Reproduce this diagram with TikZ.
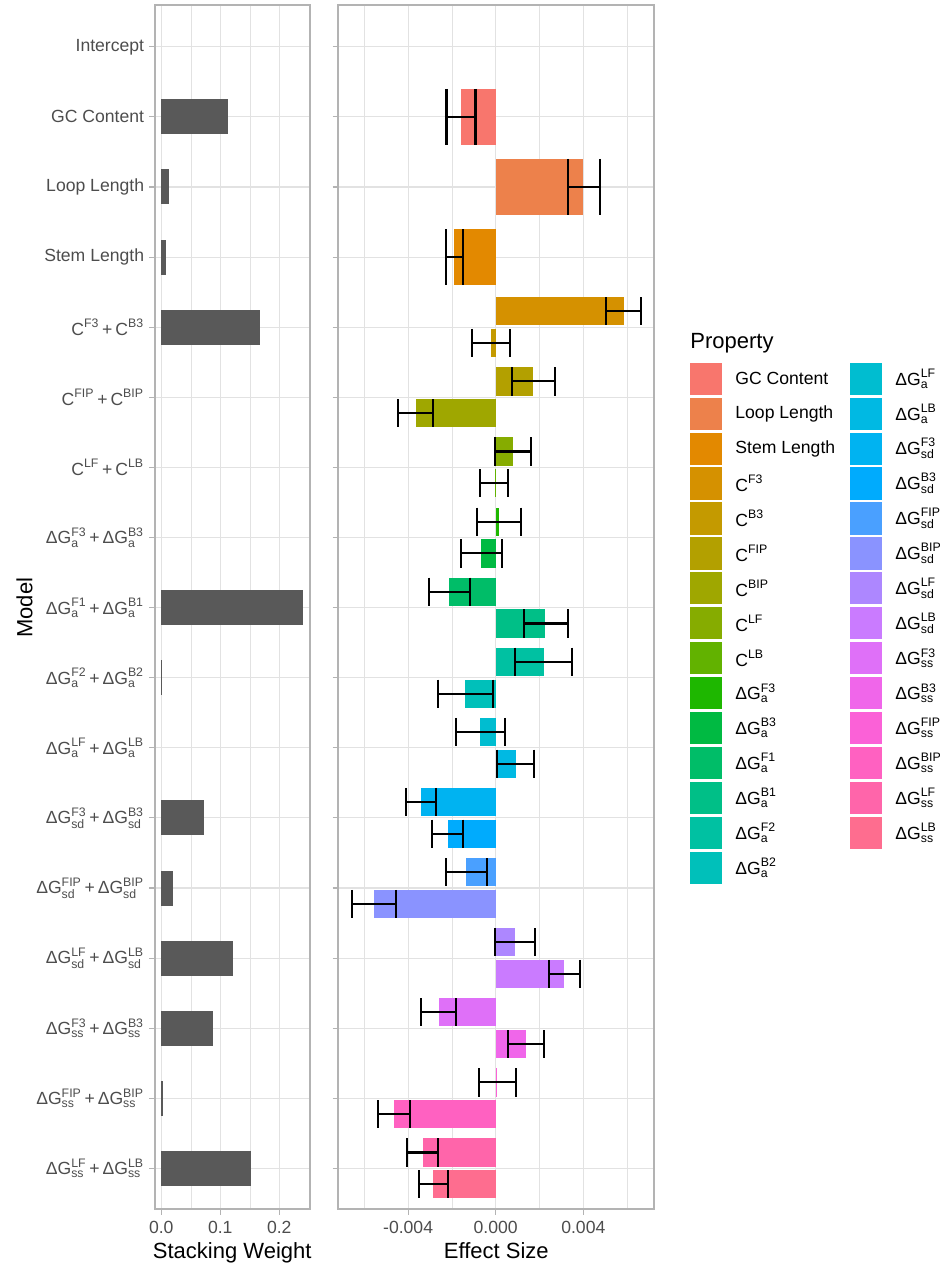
\documentclass[tikz,border=0pt]{standalone}
\usepackage{amsmath}
\usepackage{fontspec}
\setmainfont{Liberation Sans}
\usepackage{xcolor}
\usepackage{tikz}
\usetikzlibrary{positioning}

% colours of the properties
\definecolor{pGC}{HTML}{F8766D}
\definecolor{pLoop}{HTML}{ED814B}
\definecolor{pStem}{HTML}{E38900}
\definecolor{pCF3}{HTML}{D59100}
\definecolor{pCB3}{HTML}{C49A00}
\definecolor{pCFIP}{HTML}{B3A000}
\definecolor{pCBIP}{HTML}{9FA700}
\definecolor{pCLF}{HTML}{86AC00}
\definecolor{pCLB}{HTML}{62B200}
\definecolor{paF3}{HTML}{1EB700}
\definecolor{paB3}{HTML}{00BA42}
\definecolor{paF1}{HTML}{00BD68}
\definecolor{paB1}{HTML}{00BF87}
\definecolor{paF2}{HTML}{00C1A2}
\definecolor{paB2}{HTML}{00C0BA}
\definecolor{paLF}{HTML}{00BDD0}
\definecolor{paLB}{HTML}{00B9E3}
\definecolor{psdF3}{HTML}{00B3F1}
\definecolor{psdB3}{HTML}{00ABFD}
\definecolor{psdFIP}{HTML}{4AA0FF}
\definecolor{psdBIP}{HTML}{8A93FF}
\definecolor{psdLF}{HTML}{AD87FF}
\definecolor{psdLB}{HTML}{CA7BFF}
\definecolor{pssF3}{HTML}{DF70F8}
\definecolor{pssB3}{HTML}{F066EA}
\definecolor{pssFIP}{HTML}{FB61D7}
\definecolor{pssBIP}{HTML}{FF61C1}
\definecolor{pssLF}{HTML}{FF65AA}
\definecolor{pssLB}{HTML}{FE6D8F}
% theme colours
\definecolor{gridC}{HTML}{E2E2E2}
\definecolor{frameC}{HTML}{B3B3B3}
\definecolor{tickC}{HTML}{4D4D4D}
\definecolor{weightC}{HTML}{595959}

\newcommand{\csup}[1]{C$^{\text{#1}}$}
\newcommand{\dg}[2]{ΔG$^{\text{#1}}_{\text{#2}}$}
\newcommand{\plus}{\hspace{0.16em}+\hspace{0.16em}}

\begin{document}
\begin{tikzpicture}[x=0.5pt, y=-0.5pt,
    errbar/.style={black, line width=1.07pt},
    majorgrid/.style={gridC, line width=0.53pt},
    minorgrid/.style={gridC, line width=0.27pt},
    panelframe/.style={frameC, line width=1.07pt},
    tickmark/.style={frameC, line width=0.53pt},
    ticktext/.style={tickC, font=\fontsize{8.8}{10}\selectfont, inner sep=0pt},
    axistitle/.style={font=\fontsize{11}{13}\selectfont, inner sep=0pt},
    legtext/.style={font=\fontsize{8.8}{10}\selectfont, inner sep=0pt}]
    \useasboundingbox (0,0) rectangle (939,1267);
    % =================================================================
    % 1. GRID OF BOTH PANELS
    % =================================================================
    \foreach \gx in {190.8, 249.8, 364.3, 451.9, 539.5, 627.1}
        \draw[minorgrid] (\gx,5.3) -- (\gx,1209.3);
    \foreach \gx in {161.3, 220.3, 279.3, 408.1, 495.7, 583.3}
        \draw[majorgrid] (\gx,5.3) -- (\gx,1209.3);
    % model rows: lines, ticks and names
    \foreach \i/\lab in {1/Intercept, 2/GC Content, 3/Loop Length, 4/Stem Length,
        5/{\csup{F3}\plus\csup{B3}}, 6/{\csup{FIP}\plus\csup{BIP}}, 7/{\csup{LF}\plus\csup{LB}},
        8/{\dg{F3}{a}\plus\dg{B3}{a}}, 9/{\dg{F1}{a}\plus\dg{B1}{a}},
        10/{\dg{F2}{a}\plus\dg{B2}{a}}, 11/{\dg{LF}{a}\plus\dg{LB}{a}},
        12/{\dg{F3}{sd}\plus\dg{B3}{sd}}, 13/{\dg{FIP}{sd}\plus\dg{BIP}{sd}},
        14/{\dg{LF}{sd}\plus\dg{LB}{sd}}, 15/{\dg{F3}{ss}\plus\dg{B3}{ss}},
        16/{\dg{FIP}{ss}\plus\dg{BIP}{ss}}, 17/{\dg{LF}{ss}\plus\dg{LB}{ss}}}{
        \pgfmathsetmacro{\ty}{46.8+70.1*(\i-1)}
        \draw[majorgrid] (154.7,\ty) -- (309.7,\ty) (338.3,\ty) -- (654.3,\ty);
        \draw[tickmark] (149,\ty) -- (154.7,\ty) (332.6,\ty) -- (338.3,\ty);
        \node[ticktext, anchor=east] (model\i) at (144.5,\ty) {\lab};
    }
    % =================================================================
    % 2. STACKING WEIGHTS (left panel)
    % =================================================================
    \begin{scope}[shift={(161.3,0)}, xscale=590]
        \foreach \i/\w in {2/0.113, 3/0.0136, 4/0.0085, 5/0.168, 9/0.240, 10/0.001,
            12/0.0725, 13/0.0203, 14/0.1215, 15/0.0876, 16/0.0024, 17/0.1516}
            \fill[weightC] (0,{46.8+70.1*(\i-1)-17.5}) rectangle (\w,{46.8+70.1*(\i-1)+17.5});
    \end{scope}
    % =================================================================
    % 3. EFFECT SIZES WITH ERROR BARS (right panel, unit 0.001)
    % =================================================================
    \begin{scope}[shift={(495.7,0)}, xscale=21.9]
        \foreach \i/\o/\v/\lo/\hi/\c in {
            2/0/-1.58/-2.25/-0.92/pGC, 3/0/4.00/3.29/4.76/pLoop, 4/0/-1.89/-2.27/-1.49/pStem,
            5/-1/5.84/5.05/6.63/pCF3, 5/1/-0.21/-1.07/0.64/pCB3,
            6/-1/1.70/0.74/2.69/pCFIP, 6/1/-3.64/-4.46/-2.86/pCBIP,
            7/-1/0.79/-0.02/1.61/pCLF, 7/1/-0.05/-0.72/0.58/pCLB,
            8/-1/0.14/-0.85/1.16/paF3, 8/1/-0.67/-1.60/0.27/paB3,
            9/-1/-2.12/-3.06/-1.17/paF1, 9/1/2.26/1.28/3.29/paB1,
            10/-1/2.19/0.89/3.50/paF2, 10/1/-1.39/-2.63/-0.14/paB2,
            11/-1/-0.73/-1.81/0.42/paLF, 11/1/0.91/0.06/1.76/paLB,
            12/-1/-3.41/-4.08/-2.74/psdF3, 12/1/-2.19/-2.92/-1.49/psdB3,
            13/-1/-1.36/-2.28/-0.38/psdFIP, 13/1/-5.54/-6.55/-4.55/psdBIP,
            14/-1/0.88/-0.02/1.79/psdLF, 14/1/3.11/2.42/3.84/psdLB,
            15/-1/-2.60/-3.42/-1.81/pssF3, 15/1/1.37/0.56/2.21/pssB3,
            16/-1/0.05/-0.76/0.91/pssFIP, 16/1/-4.66/-5.39/-3.93/pssBIP,
            17/-1/-3.33/-4.06/-2.62/pssLF, 17/1/-2.85/-3.52/-2.16/pssLB}{
            \pgfmathsetmacro{\yc}{46.8+70.1*(\i-1)+15.9*\o}
            \pgfmathsetmacro{\hh}{28-13.9*abs(\o)}
            \fill[\c] (0,{\yc-\hh}) rectangle (\v,{\yc+\hh});
            \draw[errbar] (\lo,{\yc-\hh}) -- (\lo,{\yc+\hh}) (\lo,\yc) -- (\hi,\yc)
                (\hi,{\yc-\hh}) -- (\hi,{\yc+\hh});
        }
    \end{scope}
    % panel borders
    \draw[panelframe] (154.7,5.3) rectangle (309.7,1209.3);
    \draw[panelframe] (338.3,5.3) rectangle (654.3,1209.3);
    % x axes
    \foreach \k/\gx/\t in {1/161.3/0.0, 2/220.3/0.1, 3/279.3/0.2,
        4/408.1/-0.004, 5/495.7/0.000, 6/583.3/0.004}{
        \draw[tickmark] (\gx,1209.3) -- (\gx,1215);
        \node[ticktext, anchor=base] (xlab\k) at (\gx,1233.3) {\t};
    }
    \node[axistitle, anchor=base] (weighttitle) at (232.2,1258.3) {Stacking Weight};
    \node[axistitle, anchor=base] (effecttitle) at (496.3,1258.3) {Effect Size};
    \node[axistitle, rotate=90, anchor=base] (modeltitle) at (32.3,607.6) {Model};
    % =================================================================
    % 4. LEGEND
    % =================================================================
    \node[axistitle, anchor=base west] (legtitle) at (690,348.3) {Property};
    \foreach \k/\c/\lab in {0/pGC/GC Content, 1/pLoop/Loop Length, 2/pStem/Stem Length,
        3/pCF3/\csup{F3}, 4/pCB3/\csup{B3}, 5/pCFIP/\csup{FIP}, 6/pCBIP/\csup{BIP},
        7/pCLF/\csup{LF}, 8/pCLB/\csup{LB}, 9/paF3/\dg{F3}{a}, 10/paB3/\dg{B3}{a},
        11/paF1/\dg{F1}{a}, 12/paB1/\dg{B1}{a}, 13/paF2/\dg{F2}{a}, 14/paB2/\dg{B2}{a}}{
        \fill[\c] (690,{378.8+34.93*\k-16.1}) rectangle (722.3,{378.8+34.93*\k+16.1});
        \node[legtext, anchor=west] (legA\k) at (735,{378.8+34.93*\k}) {\lab};
    }
    \foreach \k/\c/\lab in {0/paLF/\dg{LF}{a}, 1/paLB/\dg{LB}{a},
        2/psdF3/\dg{F3}{sd}, 3/psdB3/\dg{B3}{sd}, 4/psdFIP/\dg{FIP}{sd},
        5/psdBIP/\dg{BIP}{sd}, 6/psdLF/\dg{LF}{sd}, 7/psdLB/\dg{LB}{sd},
        8/pssF3/\dg{F3}{ss}, 9/pssB3/\dg{B3}{ss}, 10/pssFIP/\dg{FIP}{ss},
        11/pssBIP/\dg{BIP}{ss}, 12/pssLF/\dg{LF}{ss}, 13/pssLB/\dg{LB}{ss}}{
        \fill[\c] (850,{378.8+34.93*\k-16.1}) rectangle (882.3,{378.8+34.93*\k+16.1});
        \node[legtext, anchor=west] (legB\k) at (895,{378.8+34.93*\k}) {\lab};
    }
\end{tikzpicture}
\end{document}
